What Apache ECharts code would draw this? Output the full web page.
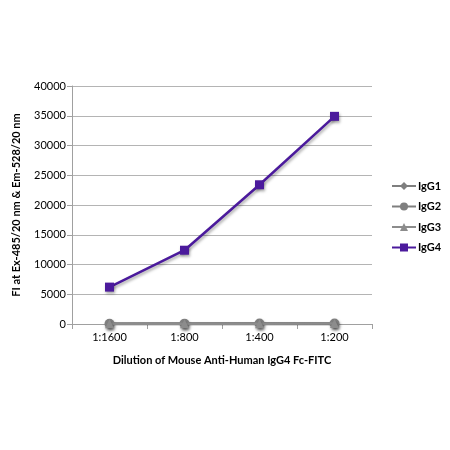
<!DOCTYPE html>
<html><head><meta charset="utf-8">
<script src="https://cdn.jsdelivr.net/npm/echarts@6/dist/echarts.min.js"></script>
<style>html,body{margin:0;padding:0;background:#fff}#c{width:450px;height:450px}</style>
</head><body><div id="c"></div>
<script>
const categories = ['1:1600', '1:800', '1:400', '1:200'];
const igg1 = [60, 70, 80, 100];
const igg2 = [50, 60, 70, 90];
const igg3 = [40, 50, 60, 80];
const igg4 = [6200, 12400, 23400, 34900];
const yTicks = { min: 0, max: 40000, interval: 5000 };

const font = 'Lato, "Open Sans", sans-serif';
const shadow = { shadowColor: 'rgba(0,0,0,0.35)', shadowBlur: 3, shadowOffsetX: 1, shadowOffsetY: 2 };
function ser(name, data, color, symbol, size, z) {
  return {
    name, type: 'line', data, symbol, symbolSize: size, z,
    lineStyle: Object.assign({ color, width: 2.5 }, shadow),
    itemStyle: Object.assign({ color }, shadow),
    emphasis: { disabled: true }
  };
}
const chart = echarts.init(document.getElementById('c'));
chart.setOption({
  animation: false,
  grid: { left: 72, right: 78, top: 86, bottom: 126 },
  legend: {
    orient: 'vertical', left: 386, top: 174,
    itemWidth: 24, itemHeight: 10, itemGap: 6.5,
    textStyle: { fontFamily: font, fontWeight: 'bold', fontSize: 11, color: '#000', lineHeight: 14, padding: [0, 0, 0, -3] },
    data: ['IgG1', 'IgG2', 'IgG3', 'IgG4']
  },
  xAxis: {
    type: 'category', data: categories, boundaryGap: true,
    name: 'Dilution of Mouse Anti-Human IgG4 Fc-FITC', nameLocation: 'middle', nameGap: 31,
    nameTextStyle: { fontFamily: font, fontWeight: 'bold', fontSize: 11, color: '#000' },
    axisLine: { lineStyle: { color: '#a0a0a0', width: 1 } },
    axisTick: { show: true, alignWithLabel: false, length: 5, lineStyle: { color: '#a0a0a0' } },
    axisLabel: { fontFamily: font, fontSize: 11, color: '#000', margin: 8 }
  },
  yAxis: {
    type: 'value', min: yTicks.min, max: yTicks.max, interval: yTicks.interval,
    name: 'FI at Ex-485/20 nm & Em-528/20 nm', nameLocation: 'middle', nameGap: 50,
    nameTextStyle: { fontFamily: font, fontWeight: 'bold', fontSize: 11, color: '#000' },
    axisLine: { show: true, lineStyle: { color: '#a0a0a0', width: 1 } },
    axisTick: { show: true, length: 5, lineStyle: { color: '#a0a0a0' } },
    axisLabel: { fontFamily: font, fontSize: 11, color: '#000', margin: 6, formatter: v => String(v) },
    splitLine: { show: true, lineStyle: { color: '#b4b4b4', width: 1 } }
  },
  series: [
    ser('IgG1', igg1, '#7f7f7f', 'diamond', 8, 2),
    ser('IgG2', igg2, '#7f7f7f', 'circle', 10, 3),
    ser('IgG3', igg3, '#8c8c8c', 'triangle', 9, 4),
    ser('IgG4', igg4, '#4b1a9c', 'rect', 9, 5)
  ]
});
</script></body></html>
